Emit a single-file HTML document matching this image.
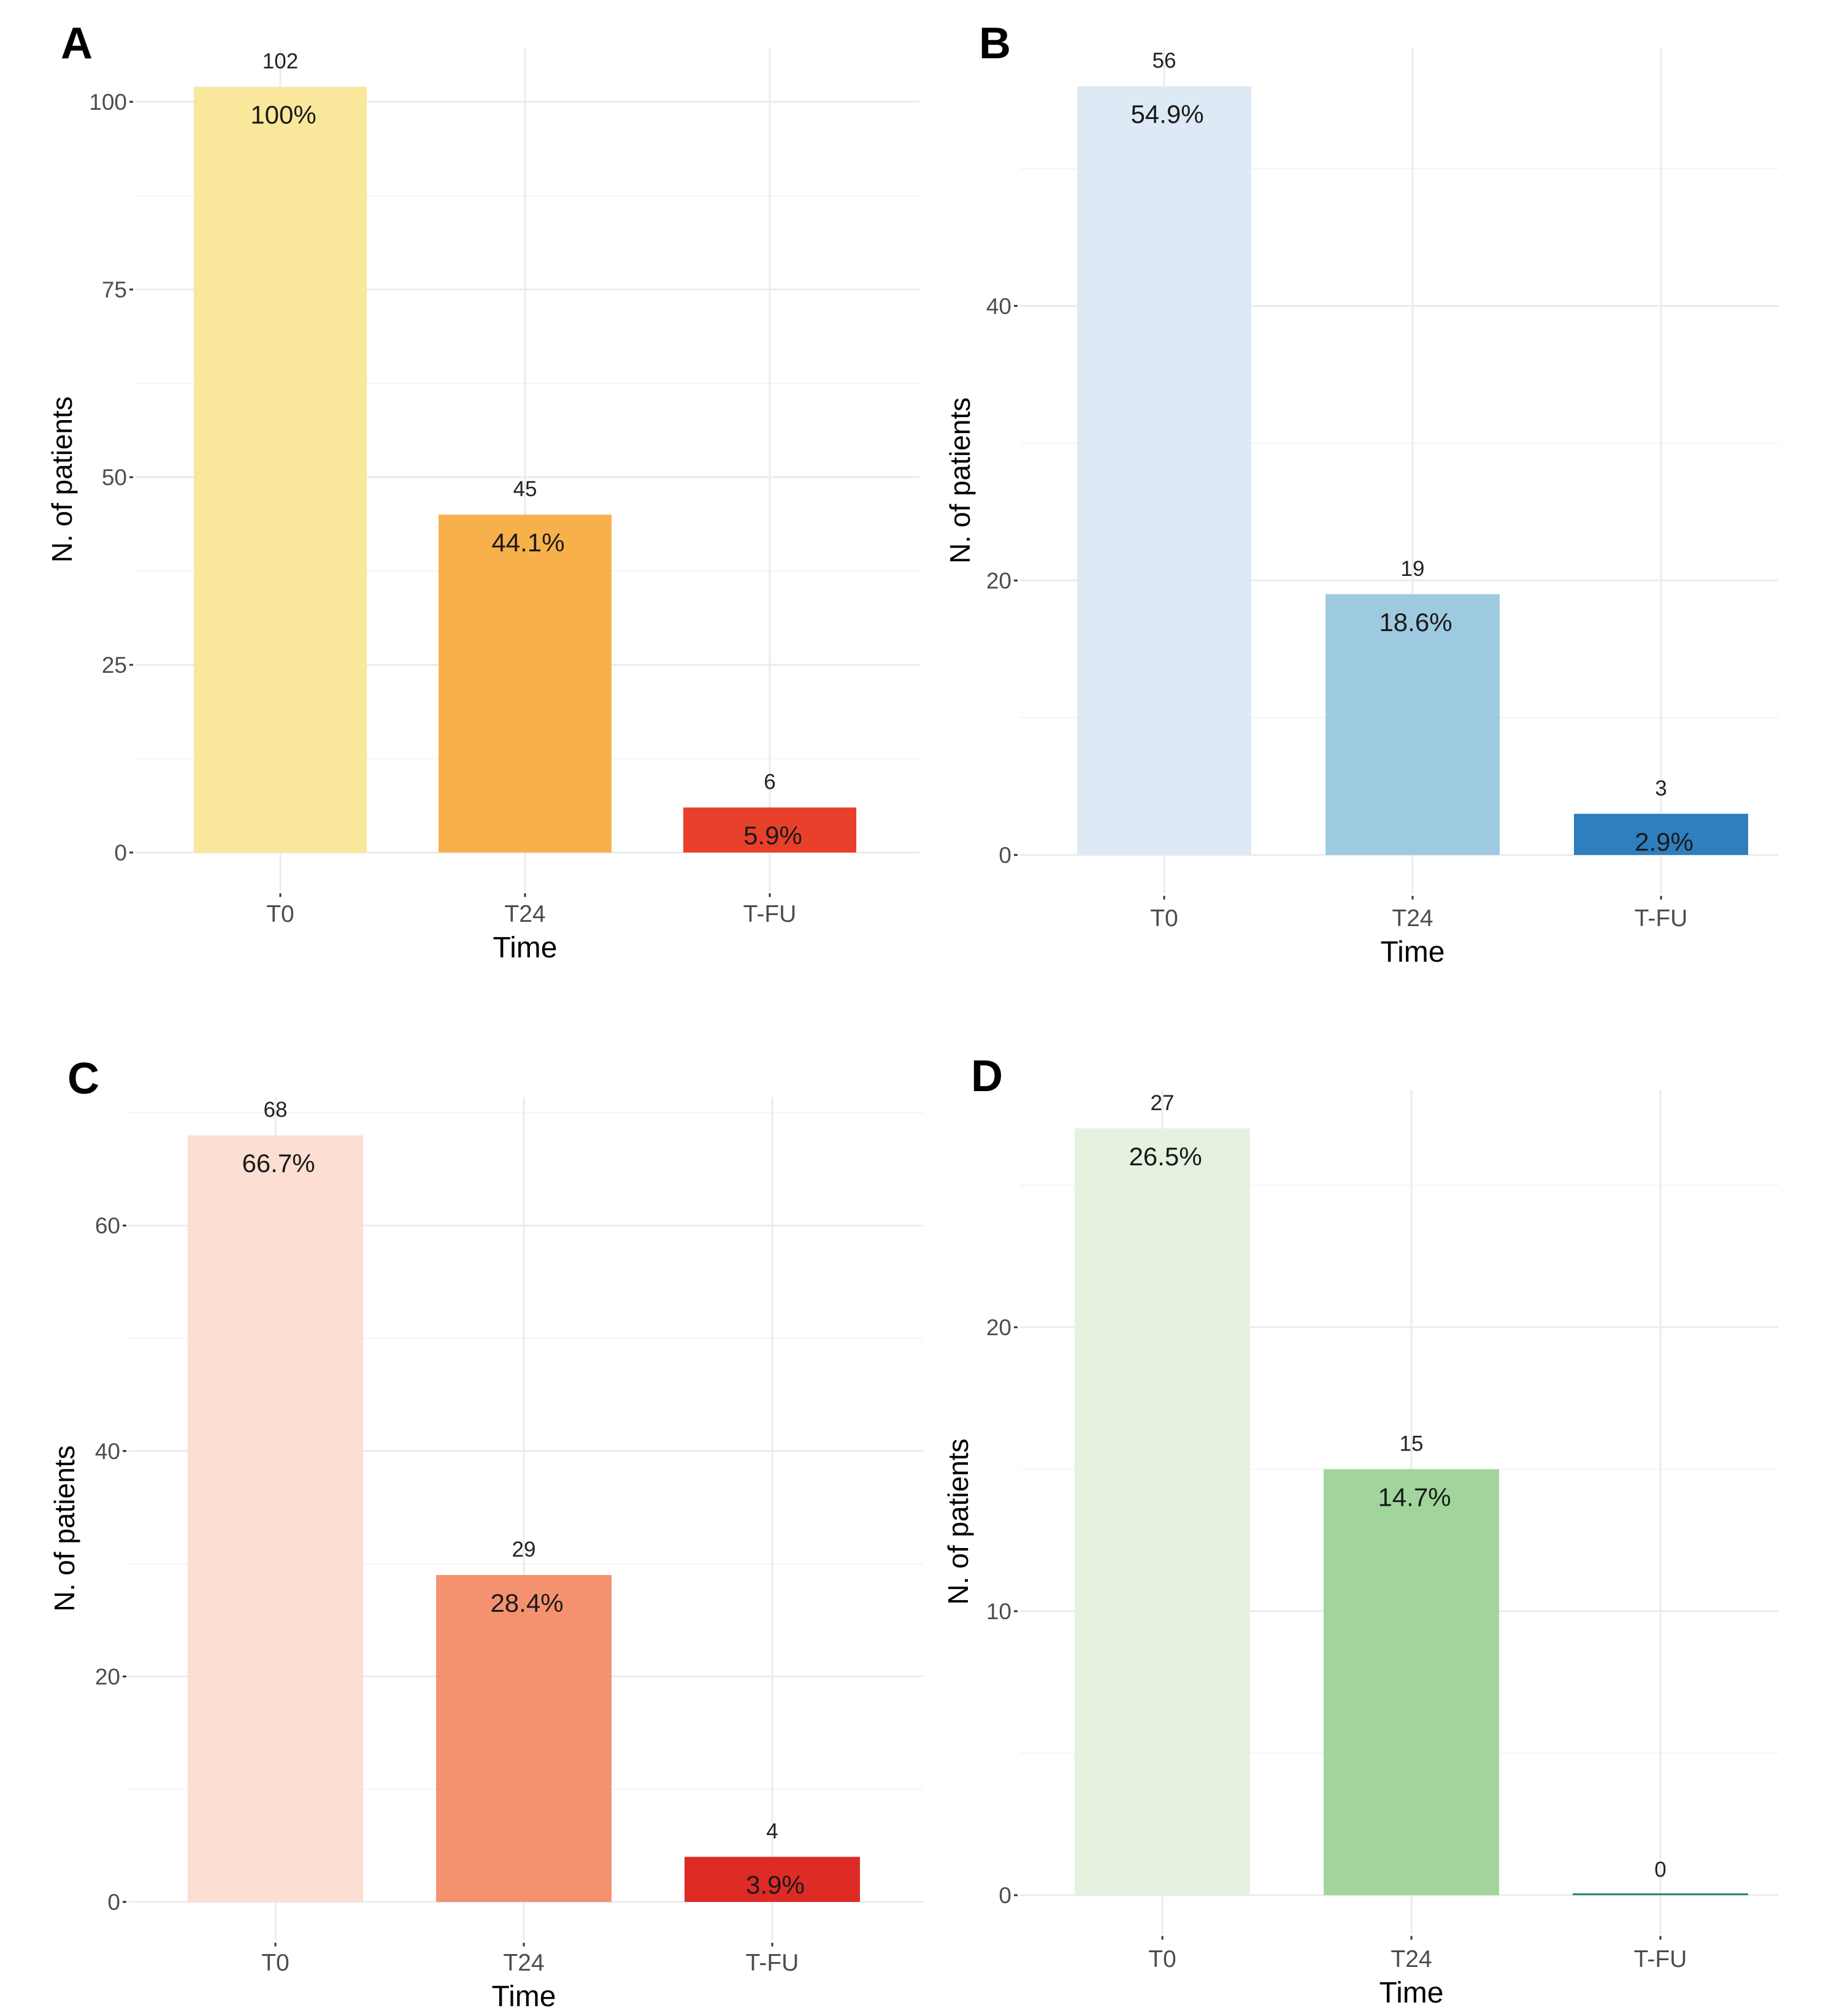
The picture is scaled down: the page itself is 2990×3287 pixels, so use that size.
<!DOCTYPE html>
<html><head><meta charset="utf-8">
<style>
html,body{margin:0;padding:0;background:#fff;}
svg text{font-family:"Liberation Sans",Arial,sans-serif;}
</style></head>
<body>
<svg id="fig" width="2990" height="3282" viewBox="0 0 2990 3282" xmlns="http://www.w3.org/2000/svg"></svg>
<script>
const categories = ["T0","T24","T-FU"];
const countsA = [102,45,6];
const pctA = ["100%","44.1%","5.9%"];
const ticksA = [0,25,50,75,100];
const countsB = [56,19,3];
const pctB = ["54.9%","18.6%","2.9%"];
const ticksB = [0,20,40];
const countsC = [68,29,4];
const pctC = ["66.7%","28.4%","3.9%"];
const ticksC = [0,20,40,60];
const countsD = [27,15,0];
const pctD = ["26.5%","14.7%","0%"];
const ticksD = [0,10,20];

const NS="http://www.w3.org/2000/svg";
const svg=document.getElementById('fig');
function mk(tag,attrs,parent){const e=document.createElementNS(NS,tag);for(const k in attrs)e.setAttribute(k,attrs[k]);(parent||svg).appendChild(e);return e;}

function panel(cfg, counts, pcts, ticks, colors){
  const g=mk('g',{});
  
  
  const maxV=Math.max(...counts);
  const yScale=v=>cfg.y0-v*cfg.ppu;
  const top=yScale(maxV*1.05), bot=yScale(-maxV*0.05);
  const xs=i=>cfg.x0+i*cfg.step;
  const stepT=ticks[1]-ticks[0];
  for(let t=ticks[0]-stepT/2;t<=maxV*1.05;t+=stepT){
    if(t<-maxV*0.05) continue;
    const l=mk('line',{x1:cfg.gl,x2:cfg.gr,y1:yScale(t),y2:yScale(t),stroke:'#f4f4f4','stroke-width':2},g);
    
    
  }
  ticks.forEach(t=>{
    const l=mk('line',{x1:cfg.gl,x2:cfg.gr,y1:yScale(t),y2:yScale(t),stroke:'#ebebeb','stroke-width':3},g);
    
    
    const tk=mk('line',{x1:cfg.gl-10,x2:cfg.gl-4,y1:yScale(t),y2:yScale(t),stroke:'#333','stroke-width':3},g);
    
    
    const tx=mk('text',{x:cfg.gl-14,y:yScale(t)+13,'text-anchor':'end','font-size':37,fill:'#4d4d4d'},g);
    tx.textContent=t;
    
    
  });
  categories.forEach((c,i)=>{
    const l=mk('line',{x1:xs(i),x2:xs(i),y1:top,y2:bot,stroke:'#ebebeb','stroke-width':3},g);
    
    
  });
  categories.forEach((c,i)=>{
    const v=counts[i];
    const h=Math.max(yScale(0)-yScale(v),3);
    const r=mk('rect',{x:xs(i)-cfg.hw,y:yScale(0)-h,width:cfg.hw*2,height:h,fill:colors[i]},g);
    
    
    const vt=mk('text',{x:xs(i),y:yScale(v)-30,'text-anchor':'middle','font-size':35,fill:'#222'},g);
    vt.textContent=v;
    
    
    if(v>0){
      const pt=mk('text',{x:xs(i)+5,y:yScale(v)+60,'text-anchor':'middle','font-size':42,fill:'#1a1a1a'},g);
      pt.textContent=pcts[i];
      
      
    }
    const tk=mk('line',{x1:xs(i),x2:xs(i),y1:bot+4,y2:bot+10,stroke:'#333','stroke-width':3},g);
    
    
    const xt=mk('text',{x:xs(i),y:cfg.xly,'text-anchor':'middle','font-size':39,fill:'#4d4d4d'},g);
    xt.textContent=c;
    
    
  });
  const xt=mk('text',{x:xs(1),y:cfg.xly+58,'text-anchor':'middle','font-size':48,fill:'#000'},g);
  xt.textContent='Time';
  
  
  const cy=(top+bot)/2;
  const yt=mk('text',{x:cfg.ytx,y:cy,'text-anchor':'middle','font-size':46,fill:'#000',transform:`rotate(-90 ${cfg.ytx+16} ${cy})`},g);
  yt.textContent='N. of patients';
  
  
  const lt=mk('text',{x:cfg.lx,y:cfg.ly,'font-size':72,'font-weight':'bold',fill:'#000'},g);
  lt.textContent=cfg.letter;
  
  
}

panel({letter:'A',y0:1390,ppu:12.24,x0:457,step:399,hw:141,gl:221,gr:1499,xly:1503,ytx:101,lx:99,ly:95},
  countsA,pctA,ticksA,['#F9E89C','#F8B04B','#E8402A']);
panel({letter:'B',y0:1394,ppu:22.38,x0:1898,step:405,hw:142,gl:1663,gr:2900,xly:1510,ytx:1565,lx:1596,ly:95},
  countsB,pctB,ticksB,['#DDEAF5','#9ECAE1','#2F7EBE']);
panel({letter:'C',y0:3101,ppu:18.38,x0:449,step:405,hw:143,gl:210,gr:1505,xly:3213,ytx:105,lx:110,ly:1783},
  countsC,pctC,ticksC,['#FCDED2','#F4926F','#DE2B25']);
panel({letter:'D',y0:3090,ppu:46.3,x0:1895,step:406,hw:143,gl:1663,gr:2900,xly:3207,ytx:1562,lx:1583,ly:1779},
  countsD,pctD,ticksD,['#E4F2DF','#A1D59B','#2E8B6A']);
</script>
</body></html>
